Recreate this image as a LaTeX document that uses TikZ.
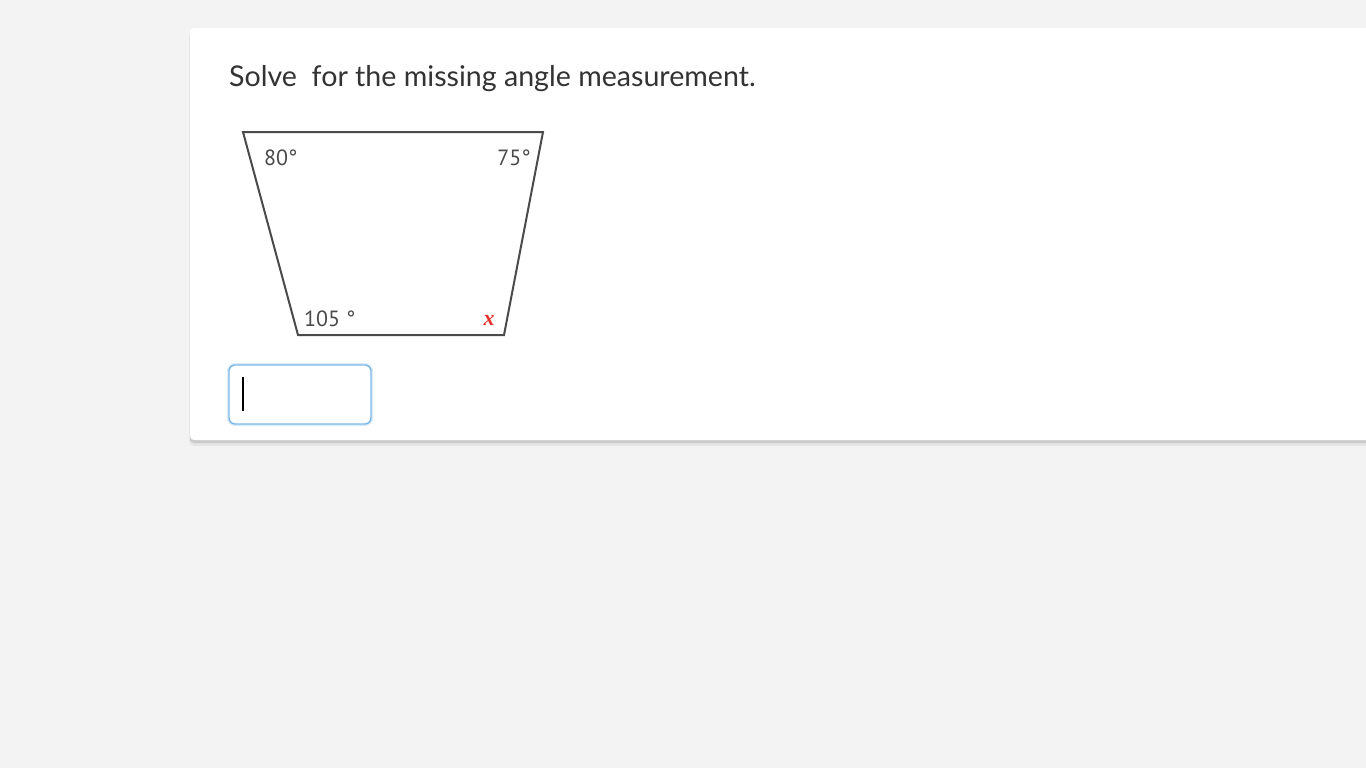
\documentclass[tikz,border=0pt]{standalone}
\usepackage{fontspec}
\setmainfont{Lato}
\newfontfamily\labelfont{PT Sans}
\newfontfamily\xfont{Liberation Serif}
\usetikzlibrary{positioning}
\definecolor{pagebg}{HTML}{F3F3F3}
\definecolor{shadowgray}{HTML}{9A9A9A}
\definecolor{inkgray}{HTML}{333333}
\definecolor{edgegray}{HTML}{4A4A4A}
\definecolor{boxblue}{HTML}{7DB7E8}
\definecolor{glowblue}{HTML}{DCEEFB}
\definecolor{xred}{HTML}{E8302A}
\tikzset{
  angle/.style={font=\labelfont\fontsize{22}{22}\selectfont, text=edgegray, inner sep=0pt},
}
\begin{document}
\begin{tikzpicture}[x=1pt, y=-1pt]
  \useasboundingbox (0,0) rectangle (1366,768);
  \fill[pagebg] (0,0) rectangle (1366,768);

  % card with its shadow
  \fill[shadowgray, opacity=0.15, rounded corners=5pt] (189,31) rectangle (1380,446);
  \fill[shadowgray, opacity=0.35, rounded corners=4pt] (190,30) rectangle (1380,443);
  \fill[white, rounded corners=4pt] (190,28) rectangle (1380,440);

  \node[anchor=base west, inner sep=0pt, text=inkgray,
        font=\fontsize{28.6}{28.6}\selectfont] (title) at (229,87)
        {Solve\ \ for the missing angle measurement.};

  % the trapezoid
  \coordinate (tl) at (243,132);
  \coordinate (tr) at (543,132);
  \coordinate (br) at (504,335);
  \coordinate (bl) at (298,335);
  \draw[edgegray, line width=2pt, line join=miter] (tl) -- (tr) -- (br) -- (bl) -- cycle;

  \node[angle, anchor=base west] (a80) at (264,165) {80°};
  \node[angle, anchor=base east] (a75) at (531,165) {75°};
  \node[angle, anchor=base west] (a105) at (304,326) {105 °};
  \node[anchor=base, inner sep=0pt, text=xred,
        font=\xfont\bfseries\itshape\fontsize{22}{22}\selectfont] (ax) at (489,325) {x};

  % answer box
  \draw[glowblue, line width=4pt, rounded corners=6pt] (229,365) rectangle (371,424);
  \draw[boxblue, line width=1.4pt, fill=white, rounded corners=6pt] (229,365) rectangle (371,424);
  \node[inner sep=0pt] (answer) at (300,394.5) {};
  \draw[black, line width=1.4pt] (243,377) -- (243,411);
\end{tikzpicture}
\end{document}
